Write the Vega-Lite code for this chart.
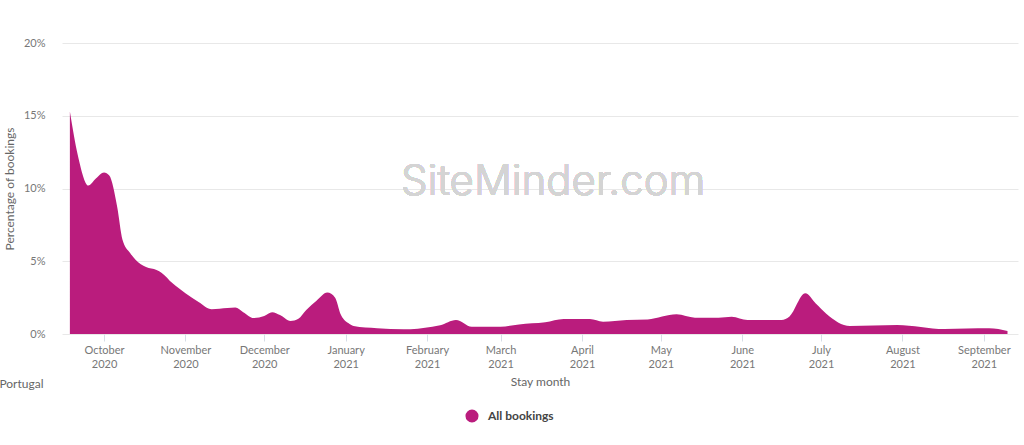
{
  "$schema": "https://vega.github.io/schema/vega-lite/v6.json",
  "width": 956,
  "height": 291,
  "autosize": {"type": "none"},
  "padding": {"left": 62, "top": 43, "right": 6, "bottom": 111},
  "background": "white",
  "config": {
    "font": "Lato",
    "view": {"stroke": null}
  },
  "title": {
    "text": "Portugal",
    "orient": "bottom",
    "anchor": "start",
    "frame": "bounds",
    "font": "Lato",
    "fontSize": 12,
    "fontWeight": "normal",
    "color": "#666666",
    "dx": -4,
    "dy": -48
  },
  "data": {
    "values": [
      {"date": "2020-09-18", "pct": 15.3, "series": "All bookings"},
      {"date": "2020-09-21", "pct": 12.3, "series": "All bookings"},
      {"date": "2020-09-25", "pct": 10.2, "series": "All bookings"},
      {"date": "2020-09-28", "pct": 10.7, "series": "All bookings"},
      {"date": "2020-10-01", "pct": 11.1, "series": "All bookings"},
      {"date": "2020-10-03", "pct": 10.9, "series": "All bookings"},
      {"date": "2020-10-06", "pct": 8.75, "series": "All bookings"},
      {"date": "2020-10-08", "pct": 6.5, "series": "All bookings"},
      {"date": "2020-10-11", "pct": 5.55, "series": "All bookings"},
      {"date": "2020-10-13", "pct": 5.1, "series": "All bookings"},
      {"date": "2020-10-17", "pct": 4.6, "series": "All bookings"},
      {"date": "2020-10-21", "pct": 4.4, "series": "All bookings"},
      {"date": "2020-10-23", "pct": 4.2, "series": "All bookings"},
      {"date": "2020-10-27", "pct": 3.5, "series": "All bookings"},
      {"date": "2020-11-01", "pct": 2.8, "series": "All bookings"},
      {"date": "2020-11-06", "pct": 2.2, "series": "All bookings"},
      {"date": "2020-11-11", "pct": 1.7, "series": "All bookings"},
      {"date": "2020-11-17", "pct": 1.78, "series": "All bookings"},
      {"date": "2020-11-20", "pct": 1.82, "series": "All bookings"},
      {"date": "2020-11-23", "pct": 1.5, "series": "All bookings"},
      {"date": "2020-11-27", "pct": 1.1, "series": "All bookings"},
      {"date": "2020-12-01", "pct": 1.24, "series": "All bookings"},
      {"date": "2020-12-04", "pct": 1.5, "series": "All bookings"},
      {"date": "2020-12-07", "pct": 1.3, "series": "All bookings"},
      {"date": "2020-12-11", "pct": 0.9, "series": "All bookings"},
      {"date": "2020-12-14", "pct": 1.05, "series": "All bookings"},
      {"date": "2020-12-17", "pct": 1.65, "series": "All bookings"},
      {"date": "2020-12-21", "pct": 2.3, "series": "All bookings"},
      {"date": "2020-12-25", "pct": 2.85, "series": "All bookings"},
      {"date": "2020-12-28", "pct": 2.5, "series": "All bookings"},
      {"date": "2020-12-30", "pct": 1.4, "series": "All bookings"},
      {"date": "2021-01-02", "pct": 0.75, "series": "All bookings"},
      {"date": "2021-01-04", "pct": 0.55, "series": "All bookings"},
      {"date": "2021-01-13", "pct": 0.4, "series": "All bookings"},
      {"date": "2021-01-23", "pct": 0.32, "series": "All bookings"},
      {"date": "2021-02-03", "pct": 0.5, "series": "All bookings"},
      {"date": "2021-02-06", "pct": 0.6, "series": "All bookings"},
      {"date": "2021-02-12", "pct": 0.96, "series": "All bookings"},
      {"date": "2021-02-18", "pct": 0.5, "series": "All bookings"},
      {"date": "2021-03-01", "pct": 0.5, "series": "All bookings"},
      {"date": "2021-03-08", "pct": 0.66, "series": "All bookings"},
      {"date": "2021-03-18", "pct": 0.8, "series": "All bookings"},
      {"date": "2021-03-25", "pct": 1.03, "series": "All bookings"},
      {"date": "2021-04-04", "pct": 1.03, "series": "All bookings"},
      {"date": "2021-04-09", "pct": 0.85, "series": "All bookings"},
      {"date": "2021-04-18", "pct": 0.96, "series": "All bookings"},
      {"date": "2021-04-26", "pct": 1.0, "series": "All bookings"},
      {"date": "2021-05-07", "pct": 1.35, "series": "All bookings"},
      {"date": "2021-05-14", "pct": 1.12, "series": "All bookings"},
      {"date": "2021-05-23", "pct": 1.12, "series": "All bookings"},
      {"date": "2021-05-28", "pct": 1.19, "series": "All bookings"},
      {"date": "2021-06-03", "pct": 0.96, "series": "All bookings"},
      {"date": "2021-06-16", "pct": 0.96, "series": "All bookings"},
      {"date": "2021-06-19", "pct": 1.2, "series": "All bookings"},
      {"date": "2021-06-25", "pct": 2.8, "series": "All bookings"},
      {"date": "2021-06-29", "pct": 2.1, "series": "All bookings"},
      {"date": "2021-07-03", "pct": 1.4, "series": "All bookings"},
      {"date": "2021-07-12", "pct": 0.55, "series": "All bookings"},
      {"date": "2021-07-30", "pct": 0.62, "series": "All bookings"},
      {"date": "2021-08-17", "pct": 0.34, "series": "All bookings"},
      {"date": "2021-09-03", "pct": 0.39, "series": "All bookings"},
      {"date": "2021-09-10", "pct": 0.2, "series": "All bookings"}
    ]
  },
  "layer": [
    {
      "mark": {"type": "area", "interpolate": "monotone"},
      "encoding": {
        "x": {
          "field": "date",
          "type": "temporal",
          "scale": {"domain": ["2020-09-15", "2021-09-14"]},
          "axis": {
            "title": "Stay month",
            "titleFont": "Lato",
            "titleFontSize": 12,
            "titleFontWeight": "normal",
            "titleColor": "#666666",
            "titlePadding": 7,
            "grid": false,
            "domain": false,
            "tickCount": {"interval": "month", "step": 1},
            "tickColor": "#d6dde6",
            "tickSize": 7,
            "labelPadding": 3,
            "labelFont": "Lato",
            "labelFontSize": 11,
            "labelColor": "#777777",
            "labelLineHeight": 14,
            "labelExpr": "[timeFormat(datum.value, '%B'), timeFormat(datum.value, '%Y')]"
          }
        },
        "y": {
          "field": "pct",
          "type": "quantitative",
          "scale": {"domain": [0, 20]},
          "axis": {
            "title": "Percentage of bookings",
            "titleFont": "Lato",
            "titleFontSize": 12,
            "titleFontWeight": "normal",
            "titleColor": "#666666",
            "titlePadding": 7,
            "values": [0, 5, 10, 15, 20],
            "labelExpr": "datum.value + '%'",
            "labelFont": "Lato",
            "labelFontSize": 11,
            "labelColor": "#777777",
            "labelPadding": 17,
            "ticks": false,
            "domain": false,
            "grid": true,
            "gridColor": "#e8e8e8",
            "gridWidth": 1
          }
        },
        "color": {
          "field": "series",
          "type": "nominal",
          "scale": {"range": ["#BA1C7D"]},
          "legend": {
            "title": null,
            "orient": "none",
            "legendX": 403,
            "legendY": 366,
            "direction": "horizontal",
            "symbolType": "circle",
            "symbolSize": 170,
            "symbolStrokeWidth": 0,
            "labelOffset": 9,
            "labelFont": "Lato",
            "labelFontSize": 12,
            "labelFontWeight": "bold",
            "labelColor": "#444444"
          }
        }
      }
    },
    {
      "mark": {
        "type": "text",
        "text": "SiteMinder.com",
        "font": "Inter",
        "fontSize": 42,
        "fontWeight": 300,
        "letterSpacing": 2,
        "color": "#d4d4d4",
        "align": "center",
        "baseline": "middle"
      },
      "encoding": {
        "x": {"datum": {"year": 2021, "month": 3, "date": 21}, "type": "temporal"},
        "y": {"datum": 10.45, "type": "quantitative"}
      }
    }
  ]
}
